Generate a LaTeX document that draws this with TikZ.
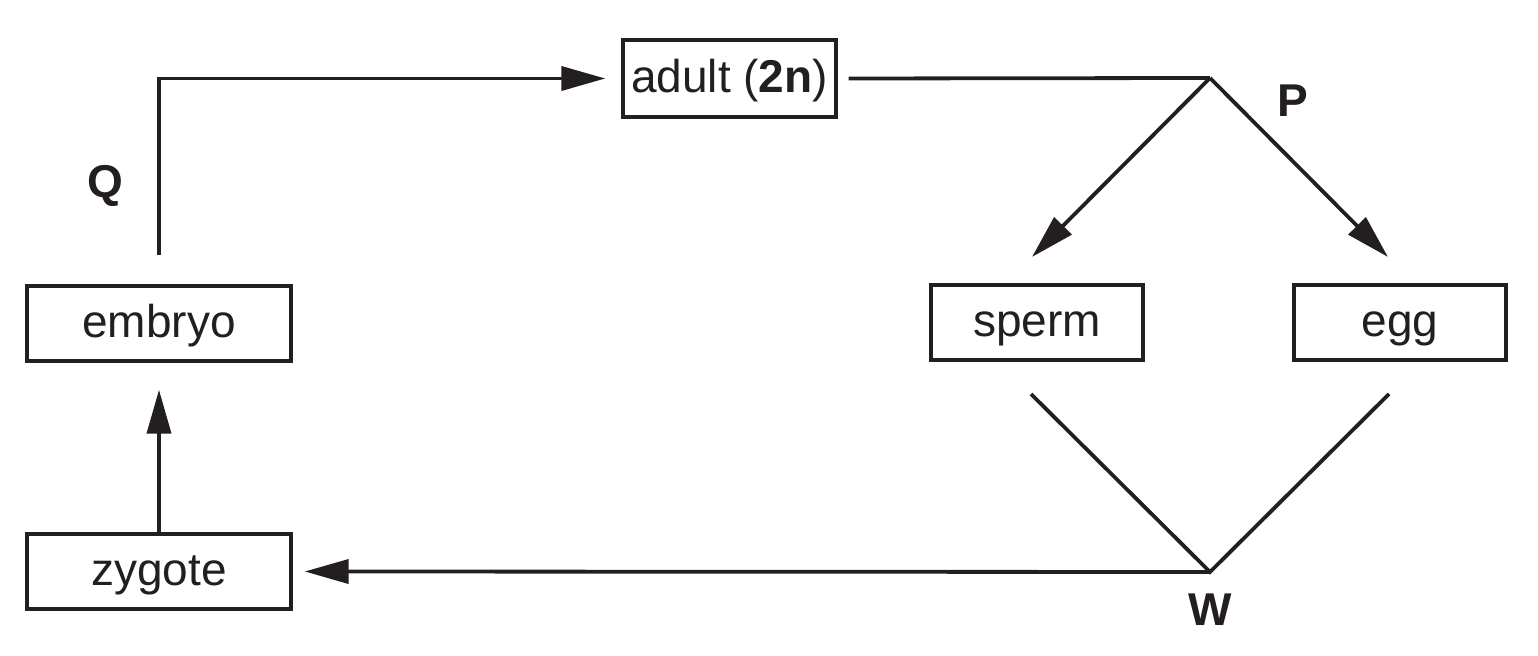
\documentclass[tikz,border=0pt]{standalone}
\usepackage{fontspec}
\setmainfont{Liberation Sans}
\usetikzlibrary{arrows.meta}
\definecolor{ink}{HTML}{231F20}
\tikzset{
  box/.style={draw=ink, line width=1.7pt, rectangle, inner sep=0pt, text=ink,
    text height=15pt, text depth=1pt,
    font=\fontsize{23}{27}\selectfont},
  conn/.style={draw=ink, line width=1.9pt},
  arr/.style={conn, -{Triangle[length=22pt,width=12pt]}},
  lab/.style={text=ink, font=\fontsize{23}{27}\selectfont\bfseries}
}
\begin{document}
\begin{tikzpicture}[x=0.5pt,y=-0.5pt]
\useasboundingbox (0,0) rectangle (1538,656);
\node[box, minimum width=106.5pt, minimum height=38.5pt] (adult) at (729.5,78.5) {adult (\textbf{2n})};
\node[box, minimum width=132pt, minimum height=37.5pt] (embryo) at (159,323.5) {embryo};
\node[box, minimum width=132pt, minimum height=37.5pt] (zygote) at (159,571.5) {zygote};
\node[box, minimum width=106pt, minimum height=37.5pt] (sperm) at (1037,322.5) {sperm};
\node[box, minimum width=106pt, minimum height=37.5pt] (egg) at (1400,322.5) {egg};
\coordinate (J1) at (1210,78);
\coordinate (J2) at (1210,572);
\coordinate (ts) at (1032,257);
\coordinate (te) at (1388,257);
\coordinate (bs) at (1031,394);
\coordinate (be) at (1389,394);
\draw[arr] ([yshift=14.5pt]embryo.north) |- ([xshift=-8pt]adult.west);
\draw[conn] ([xshift=5.5pt]adult.east) -- (J1);
\draw[arr] (J1) -- (ts);
\draw[arr] (J1) -- (te);
\draw[conn, line join=miter] (bs) -- (J2) -- (be);
\draw[arr] (J2) -- ([xshift=6pt]zygote.east);
\draw[arr] (zygote.north) -- ([yshift=-13.5pt]embryo.south);
\node[lab] (Q) at (105,186) {Q};
\node[lab] (P) at (1293,101) {P};
\node[lab] (W) at (1210,610) {W};
\end{tikzpicture}
\end{document}
